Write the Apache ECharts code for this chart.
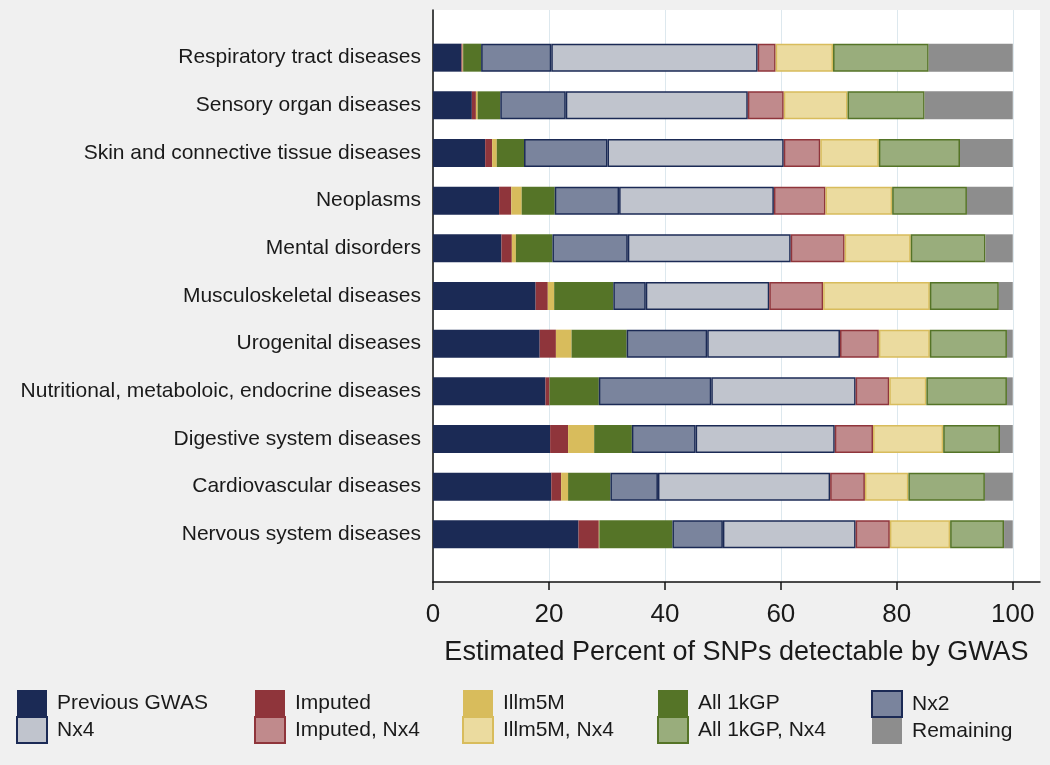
<!DOCTYPE html>
<html>
<head>
<meta charset="utf-8">
<script src="https://cdn.jsdelivr.net/npm/echarts@6/dist/echarts.min.js"></script>
<style>
  html, body { margin: 0; padding: 0; background: #f0f0f0; }
  #chart { width: 1050px; height: 765px; }
</style>
</head>
<body>
<div id="chart"></div>
<script>
// categories, top to bottom
const categories = [
  'Respiratory tract diseases',
  'Sensory organ diseases',
  'Skin and connective tissue diseases',
  'Neoplasms',
  'Mental disorders',
  'Musculoskeletal diseases',
  'Urogenital diseases',
  'Nutritional, metaboloic, endocrine diseases',
  'Digestive system diseases',
  'Cardiovascular diseases',
  'Nervous system diseases'
]

// segment widths (percent)
const prevGwas   = [4.9, 6.7, 9.0, 11.4, 11.8, 17.7, 18.4, 19.4, 20.2, 20.4, 25.1]
const imputed    = [0.2, 0.7, 1.2, 2.1, 1.8, 2.1, 2.8, 0.7, 3.1, 1.7, 3.5]
const illm5m     = [0.1, 0.3, 0.8, 1.8, 0.7, 1.1, 2.7, 0.0, 4.5, 1.2, 0.1]
const all1kgp    = [3.1, 3.9, 4.7, 5.7, 6.3, 10.2, 9.5, 8.5, 6.5, 7.3, 12.6]
const nx2        = [12.1, 11.3, 14.4, 11.1, 13.0, 5.6, 13.9, 19.4, 11.0, 8.2, 8.7]
const nx4        = [35.6, 31.4, 30.4, 26.7, 28.1, 21.3, 22.9, 24.9, 24.0, 29.7, 22.9]
const imputedNx4 = [3.1, 6.2, 6.3, 8.9, 9.3, 9.3, 6.7, 5.8, 6.6, 6.0, 5.9]
const illm5mNx4  = [9.9, 11.0, 10.1, 11.5, 11.4, 18.4, 8.8, 6.4, 12.1, 7.5, 10.4]
const all1kgpNx4 = [16.5, 13.3, 14.0, 12.9, 12.9, 11.9, 13.3, 13.9, 9.8, 13.2, 9.3]
const remaining  = [14.5, 15.2, 9.1, 7.9, 4.7, 2.4, 1.0, 1.0, 2.2, 4.8, 1.5]

const xTicks = [0, 20, 40, 60, 80, 100]

const FONT = '"Liberation Sans", Arial, sans-serif'
const NAVY = '#1b2a55'
const RED = '#8f353b'
const YEL = '#d8bc5c'
const GRN = '#557427'

// name, data, fill, border
const parts = [
  ['Previous GWAS', prevGwas, NAVY, null],
  ['Imputed', imputed, RED, null],
  ['Illm5M', illm5m, YEL, null],
  ['All 1kGP', all1kgp, GRN, null],
  ['Nx2', nx2, '#7a849d', NAVY],
  ['Nx4', nx4, '#c0c4cd', NAVY],
  ['Imputed, Nx4', imputedNx4, '#c08a8c', RED],
  ['Illm5M, Nx4', illm5mNx4, '#ebdb9f', YEL],
  ['All 1kGP, Nx4', all1kgpNx4, '#99ad7c', GRN],
  ['Remaining', remaining, '#8d8d8d', null]
]

const series = parts.map(([name, data, color, border]) => ({
  name,
  type: 'bar',
  stack: 'all',
  data,
  barWidth: 28,
  itemStyle: {
    color,
    borderColor: border || color,
    borderWidth: border ? 1.5 : 0
  }
}))

// legend: 5 columns of 2 rows
const legendCols = [16, 254, 462, 657, 871]
const legends = legendCols.map((left, i) => ({
  orient: 'vertical',
  left,
  top: 690,
  padding: 0,
  itemGap: 0,
  itemWidth: 30,
  itemHeight: 26,
  icon: 'rect',
  selectedMode: false,
  data: [parts[i][0], parts[i + 5][0]],
  textStyle: { fontFamily: FONT, fontSize: 21, color: '#1a1a1a', padding: [0, 0, 0, 5] }
}))

const chart = echarts.init(document.getElementById('chart'))
chart.setOption({
  backgroundColor: '#f0f0f0',
  animation: false,
  grid: {
    left: 433, right: 10, top: 10, bottom: 183,
    show: true, backgroundColor: '#ffffff', borderWidth: 0
  },
  xAxis: {
    type: 'value',
    min: 0,
    max: 104.7,
    interval: 20,
    name: 'Estimated Percent of SNPs detectable by GWAS',
    nameLocation: 'middle',
    nameGap: 57,
    nameTextStyle: { fontFamily: FONT, fontSize: 27, color: '#1a1a1a' },
    axisLine: { show: true, lineStyle: { color: '#111', width: 1.5 } },
    axisTick: { show: true, length: 8, customValues: xTicks, lineStyle: { color: '#111', width: 1.5 } },
    axisLabel: { customValues: xTicks, margin: 20, fontFamily: FONT, fontSize: 26, color: '#1a1a1a' },
    splitLine: { show: true, lineStyle: { color: '#dde8ee', width: 1 } }
  },
  yAxis: {
    type: 'category',
    inverse: true,
    data: categories,
    min: -1,
    max: 11,
    boundaryGap: false,
    axisLine: { show: true, lineStyle: { color: '#111', width: 1.5 } },
    axisTick: { show: false },
    splitLine: { show: false },
    axisLabel: {
      interval: 0,
      margin: 12,
      fontFamily: FONT,
      fontSize: 21,
      color: '#1a1a1a',
      formatter: v => (typeof v === 'string' ? v : '')
    }
  },
  legend: legends,
  series
})
</script>
</body>
</html>
